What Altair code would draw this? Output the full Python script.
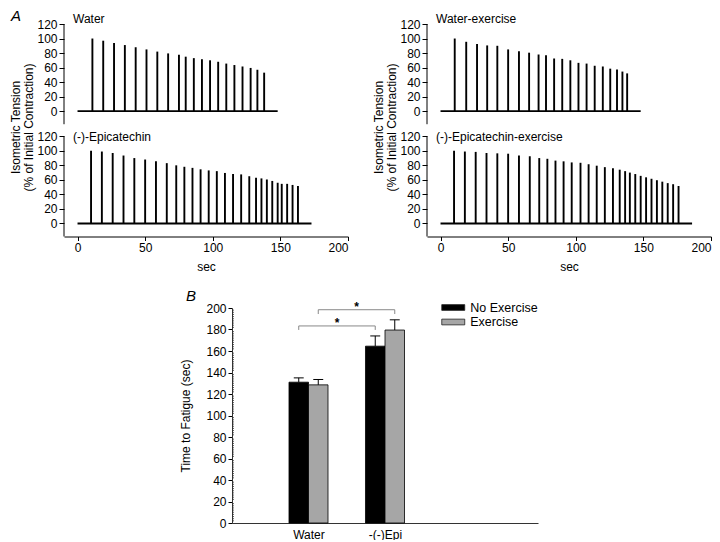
import altair as alt
import pandas as pd

FONT = "Liberation Sans"

# ---------------- Panel A: isometric tension traces ----------------
water_t = [11, 19, 27, 35, 43, 51, 59, 67, 75, 80, 86, 92, 98, 104, 110, 116, 122, 128, 133, 138]
water_h = [100, 97, 94, 91, 88, 85, 82, 79.5, 77.5, 75, 73, 71.5, 70, 68, 65.5, 63.5, 61.5, 59.5, 57, 53]
water_end = 148

waterex_t = [10.5, 19, 27, 34.5, 42, 50, 58, 65.5, 72.5, 78, 84, 90, 96, 102, 108, 114, 120, 125.5, 130.5, 134.5, 138]
waterex_h = [100, 95.5, 92.5, 90.5, 90, 85, 82.5, 80.5, 78, 77, 72.5, 72, 70, 66.5, 65.5, 62.5, 61.5, 58.5, 57.5, 54.5, 52]
waterex_end = 148

epi_t = [10, 18, 26, 34, 42, 50, 58, 66, 73, 79, 85, 91, 97, 103, 109, 115, 121, 127, 132, 136,
         140, 144, 148, 151, 155, 159, 163]
epi_h = [100, 99, 97, 93.5, 90, 88, 85.5, 83, 80, 78, 76.5, 74.5, 73, 72, 69.5, 68, 67.5, 65, 63, 62,
         60.5, 58.5, 56, 54.5, 54.5, 53, 51.5]
epi_end = 173

epiex_t = [10, 18, 26, 34, 42, 50, 58, 66, 73, 79, 85, 91, 97, 103.5, 109.5, 115.5, 121.5, 127.5, 132.5, 136.5,
           140, 144, 148, 152, 156, 160, 164, 168, 172, 176]
epiex_h = [100, 99, 98.5, 97, 96.5, 96, 93.5, 92.5, 90, 89, 86.5, 85.5, 84, 83.5, 81.5, 79.5, 77.5, 76, 74, 72,
           70, 68, 65.5, 63.5, 61.5, 59.5, 57.5, 55.5, 54, 51.5]
epiex_end = 186

x_ticks_a = [0, 50, 100, 150, 200]
y_ticks_a = [0, 20, 40, 60, 80, 100, 120]
y_title_a = ["Isometric Tension", "(% of Initial Contraction)"]

# ---------------- Panel B: time to fatigue ----------------
groups = ["Water", "-(-)Epi"]
conditions = ["No Exercise", "Exercise"]
mean_noex = [131, 164.5]
mean_ex = [128.5, 179.5]
sem_noex = [4, 9.5]
sem_ex = [5, 9.5]
y_ticks_b = list(range(0, 201, 20))
minor_b = [v for v in range(0, 201, 2) if v % 20 != 0]
# significance brackets: (group_a, cond_a, group_b, cond_b, height, drop, star baseline)
brackets = [
    ("Water", "No Exercise", "-(-)Epi", "No Exercise", 183.3, 3.7, 182.0),
    ("Water", "Exercise", "-(-)Epi", "Exercise", 198.4, 4.0, 197.5),
]

# ---------------- layout constants ----------------
BW = 0.255            # bar width (x units of panel B)
Y_LO, Y_HI = -18, 120  # visible range of each trace
GAP = 16.6            # gap between stacked traces (y units)
O = (Y_HI - Y_LO) + GAP  # vertical shift of upper trace
COL_H = 212.5


def column(top_name, top_t, top_h, top_end, bot_name, bot_t, bot_h, bot_end, letter=None):
    xscale = alt.Scale(domain=[-10, 200], nice=False, zero=False)
    yscale = alt.Scale(domain=[Y_LO, O + Y_HI], nice=False, zero=False)
    xaxis = alt.Axis(values=x_ticks_a, title="sec", tickSize=4, labelPadding=2,
                     titlePadding=8, grid=False)
    ticks = y_ticks_a + [v + O for v in y_ticks_a]
    thr = (Y_HI + O) / 2
    yaxis = alt.Axis(values=ticks,
                     labelExpr=f"datum.value > {thr} ? round(datum.value - {O}) : round(datum.value)",
                     domain=False, title=y_title_a, titleX=-42, titleY=103, titleLineHeight=13,
                     tickSize=5, labelPadding=2, grid=False)
    shift = f"(datum.row == 0 ? {O} : 0)"

    spikes = pd.DataFrame({"t": top_t + bot_t, "h": top_h + bot_h,
                           "row": [0] * len(top_t) + [1] * len(bot_t)})
    base = pd.DataFrame({"t0": [0, 0], "t1": [top_end, bot_end], "row": [0, 1]})
    segs = pd.DataFrame({"x": [-10, -10], "a": [Y_LO + O, Y_LO], "b": [Y_HI + O, Y_HI]})

    sp = alt.Chart(spikes).transform_calculate(
        y0=shift, y1=f"datum.h + {shift}"
    ).mark_rule(color="black", strokeWidth=1.9).encode(
        x=alt.X("t:Q", scale=xscale, axis=xaxis),
        y=alt.Y("y0:Q", scale=yscale, axis=yaxis),
        y2="y1:Q",
    )
    bl = alt.Chart(base).transform_calculate(y0=shift).mark_rule(color="black", strokeWidth=1.9).encode(
        x=alt.X("t0:Q", scale=xscale, axis=xaxis),
        x2="t1:Q",
        y=alt.Y("y0:Q", scale=yscale, axis=yaxis),
    )
    ax = alt.Chart(segs).mark_rule(color="black", strokeWidth=1).encode(
        x=alt.X("x:Q", scale=xscale, axis=xaxis),
        y=alt.Y("a:Q", scale=yscale, axis=yaxis),
        y2="b:Q",
    )
    k = COL_H / (O + Y_HI - Y_LO)
    t1 = alt.Chart(pd.DataFrame({"label": [top_name]})).mark_text(
        align="left", baseline="middle", fontSize=12, font=FONT, color="black"
    ).encode(x=alt.value(9), y=alt.value(-5), text="label:N")
    t2 = alt.Chart(pd.DataFrame({"label": [bot_name]})).mark_text(
        align="left", baseline="middle", fontSize=12, font=FONT, color="black"
    ).encode(x=alt.value(9), y=alt.value(O * k + 1), text="label:N")
    layers = [ax, bl, sp, t1, t2]
    if letter:
        let = alt.Chart(pd.DataFrame({"label": [letter]})).mark_text(
            align="left", baseline="top", fontSize=15, font=FONT, fontStyle="italic", color="black"
        ).encode(x=alt.value(-53), y=alt.value(-15), text="label:N")
        layers.append(let)
    return alt.layer(*layers).properties(width=284, height=COL_H)


left_col = column("Water", water_t, water_h, water_end,
                  "(-)-Epicatechin", epi_t, epi_h, epi_end, letter="A")
right_col = column("Water-exercise", waterex_t, waterex_h, waterex_end,
                   "(-)-Epicatechin-exercise", epiex_t, epiex_h, epiex_end)

# ---------------- Panel B chart ----------------
rows = []
for gi, g in enumerate(groups):
    pos = gi + 1
    for ci, c in enumerate(conditions):
        m = mean_noex[gi] if ci == 0 else mean_ex[gi]
        s = sem_noex[gi] if ci == 0 else sem_ex[gi]
        xa = pos + (ci - 1) * BW
        rows.append({"group": g, "cond": c, "mean": m, "top": m + s, "zero": 0,
                     "xa": xa, "xb": xa + BW, "xc": xa + BW / 2,
                     "cl": xa + BW / 2 - 0.065, "cr": xa + BW / 2 + 0.065})
bars_df = pd.DataFrame(rows)


def center(g, c):
    r = bars_df[(bars_df.group == g) & (bars_df.cond == c)].iloc[0]
    return r["xc"]


br_rows = []
for ga, ca, gb, cb, hgt, drop, sy in brackets:
    x1, x2 = center(ga, ca), center(gb, cb)
    br_rows.append({"x1": x1, "x2": x2, "xm": (x1 + x2) / 2, "y": hgt, "yl": hgt - drop, "sy": sy, "s": "*"})
br_df = pd.DataFrame(br_rows)

bx = alt.Scale(domain=[0, 4], nice=False, zero=False)
by = alt.Scale(domain=[0, 200], nice=False)
label_expr = f"datum.value == 1 ? '{groups[0]}' : '{groups[1]}'"
bxaxis = alt.Axis(values=[1, 2], labelExpr=label_expr, ticks=False, labelPadding=6, title=None,
                  grid=False, domainColor="#333")
byaxis = alt.Axis(values=y_ticks_b, title="Time to Fatigue (sec)", titleX=-40, titleY=107.5,
                  tickSize=4, labelPadding=2, grid=False, domainColor="#333")

bars = alt.Chart(bars_df).mark_rect(stroke="black", strokeWidth=0.8).encode(
    x=alt.X("xa:Q", scale=bx, axis=bxaxis),
    x2="xb:Q",
    y=alt.Y("zero:Q", scale=by, axis=byaxis),
    y2="mean:Q",
    fill=alt.Fill("cond:N", scale=alt.Scale(domain=conditions, range=["black", "#a6a6a6"]),
                  legend=alt.Legend(title=None, orient="none", legendX=214.75, legendY=-7,
                                    symbolType="M-2,-0.5L2,-0.5L2,0.5L-2,0.5Z",
                                    symbolSize=132, symbolStrokeColor="#222",
                                    symbolStrokeWidth=0.8, labelFontSize=12.5, labelFont=FONT,
                                    labelColor="black", labelOffset=10.5, rowPadding=1.5, padding=0)),
)
err = alt.Chart(bars_df).mark_rule(color="black", strokeWidth=1).encode(
    x=alt.X("xc:Q", scale=bx, axis=bxaxis), y=alt.Y("mean:Q", scale=by, axis=byaxis), y2="top:Q")
cap = alt.Chart(bars_df).mark_rule(color="black", strokeWidth=1).encode(
    x=alt.X("cl:Q", scale=bx, axis=bxaxis), x2="cr:Q", y=alt.Y("top:Q", scale=by, axis=byaxis))
minor = alt.Chart(pd.DataFrame({"m": minor_b})).mark_rule(color="#333", strokeWidth=0.8).encode(
    x=alt.value(0), x2=alt.value(2), y=alt.Y("m:Q", scale=by, axis=byaxis))
br_h = alt.Chart(br_df).mark_rule(color="#888", strokeWidth=1).encode(
    x=alt.X("x1:Q", scale=bx, axis=bxaxis), x2="x2:Q", y=alt.Y("y:Q", scale=by, axis=byaxis))
br_l = alt.Chart(br_df).mark_rule(color="#888", strokeWidth=1).encode(
    x=alt.X("x1:Q", scale=bx, axis=bxaxis), y=alt.Y("y:Q", scale=by, axis=byaxis), y2="yl:Q")
br_r = alt.Chart(br_df).mark_rule(color="#888", strokeWidth=1).encode(
    x=alt.X("x2:Q", scale=bx, axis=bxaxis), y=alt.Y("y:Q", scale=by, axis=byaxis), y2="yl:Q")
stars = alt.Chart(br_df).mark_text(fontSize=12, fontWeight="bold", font=FONT, color="black",
                                   baseline="alphabetic").encode(
    x=alt.X("xm:Q", scale=bx, axis=bxaxis), y=alt.Y("sy:Q", scale=by, axis=byaxis), text="s:N")
B_letter = alt.Chart(pd.DataFrame({"label": ["B"]})).mark_text(
    align="left", baseline="top", fontSize=15, font=FONT, fontStyle="italic", color="black"
).encode(x=alt.value(-46), y=alt.value(-19), text="label:N")

B = alt.layer(bars, err, cap, minor, br_h, br_l, br_r, stars, B_letter).properties(width=306, height=215)

spacer = alt.Chart(pd.DataFrame({"v": [0]})).mark_point(opacity=0).encode(
    x=alt.X("v:Q", axis=None), y=alt.Y("v:Q", axis=None)).properties(width=168, height=215)

rowA = alt.hconcat(left_col, right_col, spacing=79, bounds="flush")
rowB = alt.hconcat(spacer, B, spacing=0, bounds="flush").resolve_scale(
    fill="independent").resolve_legend(fill="independent")

chart = alt.vconcat(rowA, rowB, spacing=16).resolve_scale(
    fill="independent").resolve_legend(fill="independent").properties(
    padding={"left": 1, "top": 1, "right": 0, "bottom": 0}
).configure_view(stroke=None).configure_axis(
    labelFont=FONT, titleFont=FONT, labelFontSize=12, titleFontSize=12,
    labelColor="black", titleColor="black", domainColor="black", tickColor="black",
    titleFontWeight="normal", grid=False
).configure_text(font=FONT)

chart.save("out.html", embed_options={"renderer": "svg", "actions": False})
